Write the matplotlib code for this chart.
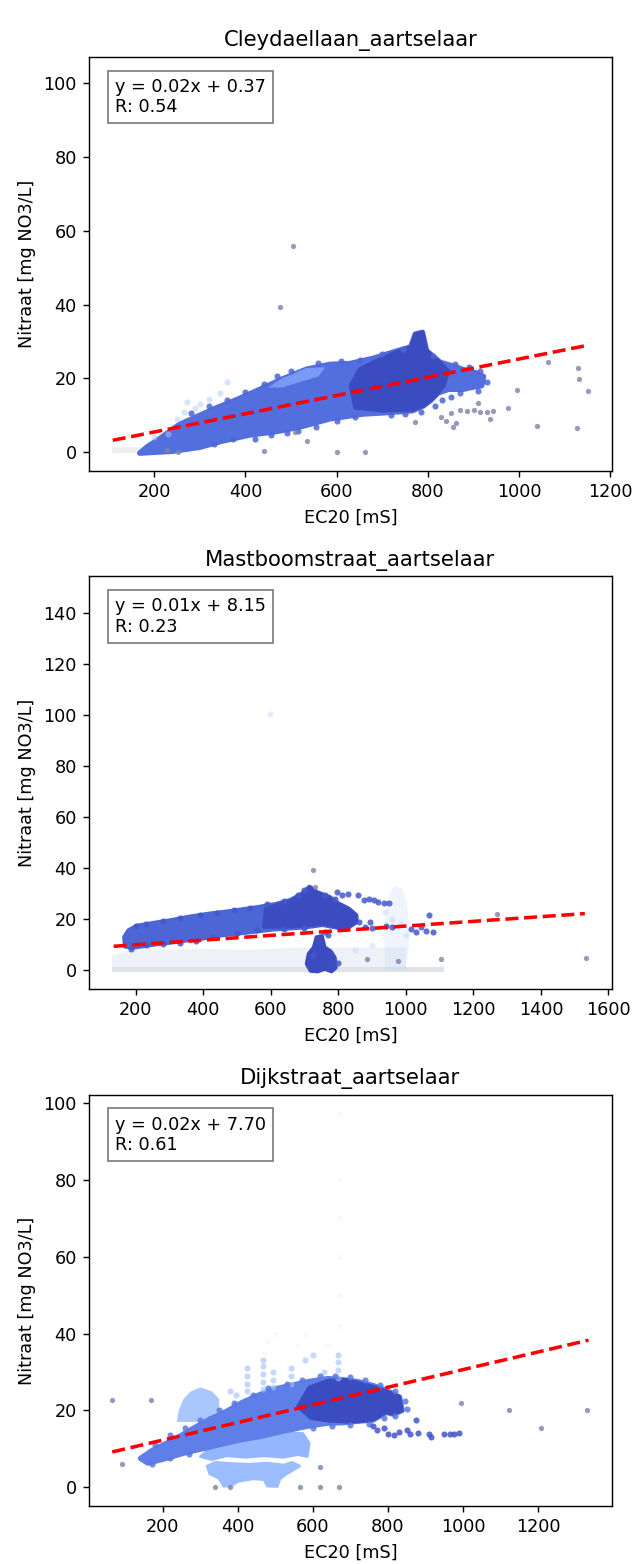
import matplotlib.pyplot as plt

cmap = plt.get_cmap("coolwarm")

# ---------------- titles / labels ----------------
stations = ["Cleydaellaan_aartselaar", "Mastboomstraat_aartselaar", "Dijkstraat_aartselaar"]
fit_labels = ["y = 0.02x + 0.37\nR: 0.54",
              "y = 0.01x + 8.15\nR: 0.23",
              "y = 0.02x + 7.70\nR: 0.61"]
x_limits = [(57, 1203), (62, 1610), (3, 1397)]
y_limits = [(-5.1, 107.1), (-7.35, 154.35), (-4.86, 102.1)]

# ---------------- Cleydaellaan ----------------
cley_fit_x = [109, 1152]
cley_fit_y = [3.2, 29.0]

cley_gray = [(108, -0.3), (170, -0.3), (178, 1.3), (108, 1.3)]
cley_core = [(168, -0.3), (185, 1.5), (210, 3.5), (255, 7.5), (300, 10), (336, 12), (380, 14.2),
             (431, 17), (480, 19.8), (534, 22.5), (585, 23.8), (628, 24), (679, 25.4), (731, 27.4),
             (762, 28.5), (772, 32), (788, 32.5), (797, 27.5), (826, 24.4), (850, 23.5), (880, 22.3),
             (905, 21.5), (922, 20.5), (918, 18), (895, 17.5), (877, 17), (845, 17), (822, 16),
             (806, 14), (790, 12.5), (766, 11.2), (700, 10.6), (657, 10.3), (585, 9), (520, 6.8),
             (470, 5.6), (409, 4.6), (350, 3), (300, 1.3), (240, 0.2)]
cley_dark = [(640, 12), (630, 18), (650, 22.5), (690, 25), (731, 27.2), (762, 28.5), (772, 32),
             (788, 32.5), (797, 27.5), (826, 24.4), (845, 22), (835, 18), (822, 16), (806, 14),
             (790, 12.5), (766, 11.4), (700, 11.2)]
cley_light = [(450, 17.5), (480, 20), (534, 22.8), (575, 23), (560, 20.5), (520, 19), (480, 17.5)]

cley_edge = [(330, 2.2), (372, 3.6), (420, 3.6), (455, 4.5), (490, 5.2), (515, 5.8), (555, 6.8),
             (600, 8.4), (640, 9.5), (720, 10), (750, 10.2), (785, 11), (280, 10.5), (320, 12.5),
             (360, 14.2), (400, 16.2), (440, 18.5), (470, 20.5), (500, 22), (560, 24.2), (610, 24.8),
             (650, 25), (700, 26.5), (745, 28), (812, 26), (860, 24), (890, 23), (915, 22), (930, 19),
             (910, 16.5), (870, 16), (850, 15), (830, 14), (815, 12.5)]
cley_haze = [(250, 9), (265, 11), (272, 13.5), (290, 12), (300, 13), (320, 14.5), (359, 19),
             (345, 16), (230, 5), (200, 4)]
cley_out = [(475, 39.3), (505, 55.8), (1062, 24.4), (995, 16.8), (1150, 16.5), (1128, 22.8),
            (1130, 19.8), (1038, 7), (1126, 6.5), (975, 11.9), (935, 8.9), (870, 11.4), (885, 11.2),
            (900, 11.3), (915, 11), (930, 11), (942, 11.2), (909, 13.3), (840, 8.5), (850, 10.5),
            (862, 8), (855, 6.8), (828, 9.5), (771, 8.1), (600, 0), (662, 0), (440, 0.3), (534, 3),
            (508, 5.4), (227, 0.5), (251, 0)]

# ---------------- Mastboomstraat ----------------
mast_fit_x = [135, 1530]
mast_fit_y = [9.4, 22.2]

mast_gray = [(130, -0.6), (1112, -0.6), (1112, 1.3), (130, 1.3)]
mast_haze = [(130, 1), (130, 6), (200, 8), (400, 8.5), (520, 8), (700, 9), (1000, 9), (1000, 1)]
mast_blue_haze = [(940, 0), (935, 15), (945, 28), (965, 33), (990, 32), (1005, 25), (1010, 10), (1000, 0)]
mast_core = [(170, 9.5), (168, 13), (180, 15.5), (204, 17.2), (260, 18.5), (300, 19.3), (361, 20.8),
             (420, 22), (470, 22.8), (508, 23.5), (560, 24.5), (617, 25.8), (660, 27.4), (695, 30),
             (715, 32.5), (735, 30.5), (774, 28.5), (800, 26), (830, 24), (852, 21.5), (853, 19),
             (830, 17), (813, 16.6), (780, 17.3), (754, 18), (700, 17), (650, 16.6), (606, 16.2),
             (530, 15), (459, 14), (400, 12.7), (350, 11.9), (311, 11.2), (250, 10.2), (193, 9.1)]
mast_dark = [(580, 17), (585, 24), (617, 25.6), (660, 27.2), (695, 30), (715, 32.5), (735, 30.5),
             (774, 28.5), (800, 26), (830, 24), (852, 21.5), (853, 19), (830, 17), (813, 16.6),
             (780, 17.5), (754, 18.2), (700, 17.4), (650, 17)]
mast_drip = [(735, 13), (752, 13.5), (760, 9), (778, 7.5), (790, 5), (793, 1), (780, -0.5),
             (760, 0.5), (740, -0.5), (718, -0.3), (706, 2.5), (712, 6.5), (727, 9)]

mast_edge = [(200, 17.5), (230, 18), (280, 19.2), (330, 20.5), (390, 21.5), (440, 22.3), (490, 23.5),
             (540, 24.5), (590, 25.8), (640, 27), (680, 29.5), (700, 31.5), (760, 29.5), (790, 28),
             (797, 30.8), (812, 29.5), (830, 29.8), (858, 29.5), (875, 27.5), (890, 28), (905, 27.5),
             (919, 26.9), (935, 26.5), (949, 26.2), (185, 8.5), (230, 9.8), (280, 10.2), (330, 10.8),
             (380, 11.5), (430, 13.2), (500, 14.5), (560, 15.8), (640, 16), (700, 16.5), (860, 18.9),
             (893, 18.9), (960, 16.9), (880, 17), (900, 16.5), (940, 17.5), (1015, 16), (1030, 15),
             (1045, 17), (1060, 15.5), (1080, 15), (1069, 21.5), (760, 15), (770, 14), (725, 6), (800, 3)]
mast_light = [(939, 22.8), (960, 20), (985, 18), (1000, 14), (900, 10), (850, 8), (597, 100.5)]
mast_out = [(724, 39.4), (731, 32.8), (886, 4.3), (977, 3.8), (1105, 4.3), (1534, 4.8), (1270, 21.9)]

# ---------------- Dijkstraat ----------------
dijk_fit_x = [65, 1335]
dijk_fit_y = [9.2, 38.3]

dijk_core = [(140, 7.5), (170, 9.5), (200, 11), (237, 12.8), (280, 15.3), (326, 17.8), (370, 19.8),
             (414, 22.2), (460, 24.2), (503, 25.7), (550, 26.7), (592, 27.6), (640, 28.3), (680, 28),
             (720, 27.5), (760, 26.5), (800, 25), (831, 23.5), (838, 20), (815, 19), (795, 19.5),
             (760, 17.5), (733, 17.3), (680, 16.8), (640, 16.7), (592, 16), (520, 14.6), (459, 13.2),
             (400, 12.2), (326, 10.5), (260, 9), (193, 7.1), (160, 6.3)]
dijk_dark = [(560, 21), (590, 26), (640, 27.8), (690, 28), (730, 27), (770, 26), (810, 24.5),
             (831, 23.5), (838, 20), (815, 19), (795, 19.5), (760, 17.5), (700, 17), (640, 17.3), (595, 18)]
dijk_lobe_top = [(300, 8), (330, 10.5), (352, 12), (420, 13.5), (500, 14.5), (573, 14), (590, 11.5),
                 (585, 8), (560, 8.5), (520, 7.8), (470, 8.2), (420, 7.8), (370, 8.2), (330, 7.2)]
dijk_lobe_low = [(318, 5.5), (340, 6.5), (380, 6.2), (430, 6), (480, 6.3), (522, 5.8), (545, 6.5),
                 (565, 5.5), (530, 3.5), (512, 2.2), (505, 0.2), (478, 0.3), (470, 2), (440, 2.2),
                 (400, 1.5), (380, 0.3), (362, 0.3), (350, 2.3), (325, 3.5)]
dijk_upper = [(237, 17), (242, 20), (255, 23), (275, 25), (300, 26), (330, 25), (350, 23),
              (350, 20), (330, 18.5), (290, 17)]

dijk_streaks = [(423, 25), (423, 27), (423, 29), (423, 31), (467, 25.5), (467, 27.5), (467, 29.5),
                (467, 31.5), (467, 33), (494, 26), (494, 28), (494, 30), (542, 27), (542, 29),
                (542, 31), (666, 28.5), (666, 30.5), (666, 32.5), (666, 34.5), (600, 34.5), (580, 33),
                (630, 30), (395, 24), (380, 25)]
dijk_faint = [(470, 35), (480, 38), (500, 40), (560, 37), (580, 40), (640, 37), (670, 42), (672, 50),
              (672, 60), (672, 70), (672, 80), (672, 97.2)]
dijk_edge = [(180, 11), (220, 13.5), (260, 15.5), (300, 17.5), (350, 20), (390, 22), (440, 24),
             (480, 25.8), (530, 27), (570, 28), (620, 29), (660, 29), (700, 28.7), (740, 28), (780, 26.5),
             (820, 25), (845, 22.5), (850, 20.5), (170, 6), (220, 7.5), (270, 8.6), (600, 15.5),
             (650, 16), (700, 16.2), (750, 16.5), (790, 18), (820, 18.5)]
dijk_tail = [(760, 16), (770, 14.8), (790, 15.5), (800, 14), (815, 13.5), (830, 14.5), (850, 15),
             (860, 14), (875, 17.4), (880, 14.2), (910, 14), (915, 13.2), (950, 14), (965, 14),
             (975, 14), (990, 14.2)]
dijk_out = [(65, 22.7), (168, 22.8), (995, 22), (1123, 20), (1208, 15.5), (1332, 20), (340, 0),
            (380, 0), (565, 0), (620, 0), (670, 0), (620, 5.3), (90, 6)]

# groups per panel: (points, colormap value, alpha, rim width)
panels = [
    dict(regions=[(cley_gray, 0.5, 0.5, 0), (cley_core, 0.08, 1.0, 3), (cley_dark, 0.0, 1.0, 2),
                  (cley_light, 0.2, 0.9, 0)],
         spots=[(cley_haze, 0.35, 0.5), (cley_edge, 0.06, 0.85)],
         outliers=cley_out, fit=(cley_fit_x, cley_fit_y)),
    dict(regions=[(mast_haze, 0.45, 0.35, 0), (mast_gray, 0.48, 0.8, 0), (mast_blue_haze, 0.35, 0.2, 0),
                  (mast_core, 0.06, 1.0, 3), (mast_dark, 0.0, 1.0, 2), (mast_drip, 0.0, 1.0, 2)],
         spots=[(mast_light, 0.38, 0.4), (mast_edge, 0.03, 0.85)],
         outliers=mast_out, fit=(mast_fit_x, mast_fit_y)),
    dict(regions=[(dijk_lobe_top, 0.27, 1.0, 1.5), (dijk_lobe_low, 0.29, 1.0, 1.5),
                  (dijk_upper, 0.33, 1.0, 0), (dijk_core, 0.12, 1.0, 3), (dijk_dark, 0.0, 1.0, 2)],
         spots=[(dijk_faint, 0.5, 0.15), (dijk_streaks, 0.3, 0.6), (dijk_edge, 0.1, 0.85),
                (dijk_tail, 0.02, 0.85)],
         outliers=dijk_out, fit=(dijk_fit_x, dijk_fit_y)),
]

# axes rectangles in figure fractions
axes_rects = [[0.1406, 0.6989, 0.826, 0.2647],
              [0.1406, 0.3676, 0.826, 0.2640],
              [0.1406, 0.0371, 0.826, 0.2628]]

fig = plt.figure(figsize=(633 / 127, 1564 / 127), dpi=127)

for i, p in enumerate(panels):
    ax = fig.add_axes(axes_rects[i])

    for pts, shade, alpha, rim in p["regions"]:
        xs, ys = zip(*pts)
        # rim in the same colour thickens the dense cloud a little, no outline look
        ax.fill(xs, ys, facecolor=cmap(shade), edgecolor=cmap(shade), alpha=alpha,
                linewidth=rim, joinstyle="round")

    for pts, shade, alpha in p["spots"]:
        xs, ys = zip(*pts)
        ax.scatter(xs, ys, color=cmap(shade), s=12, alpha=alpha, linewidths=0)

    xs, ys = zip(*p["outliers"])
    ax.scatter(xs, ys, color="#7d82a8", s=9, alpha=0.8, linewidths=0)

    fx, fy = p["fit"]
    ax.plot(fx, fy, "r--", linewidth=2)

    ax.text(0.05, 0.95, fit_labels[i], transform=ax.transAxes, va="top", ha="left",
            fontsize=10, bbox=dict(facecolor="white", alpha=0.5))

    ax.set_xlim(x_limits[i])
    ax.set_ylim(y_limits[i])
    ax.set_title(stations[i])
    ax.set_xlabel("EC20 [mS]")
    ax.set_ylabel("Nitraat [mg NO3/L]")

fig.savefig("out.png", dpi=127)
